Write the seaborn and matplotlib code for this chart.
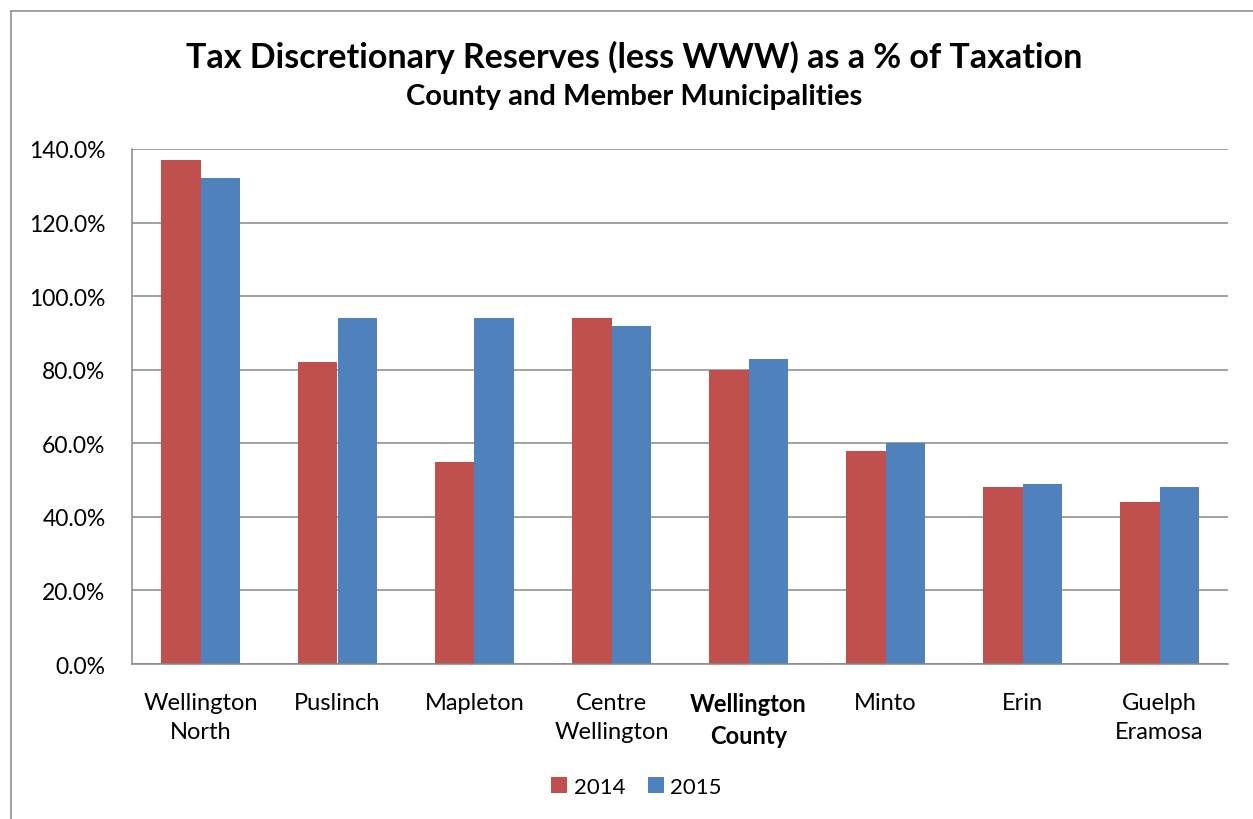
import matplotlib
matplotlib.use("Agg")
import matplotlib.pyplot as plt
from matplotlib.lines import Line2D
from matplotlib.patches import Patch
from matplotlib.ticker import FuncFormatter, FixedLocator
import seaborn as sns
import pandas as pd
import numpy as np

municipalities = ["Wellington\nNorth", "Puslinch", "Mapleton", "Centre\nWellington",
                  "Wellington\nCounty", "Minto", "Erin", "Guelph\nEramosa"]
values_2014 = [137.0, 82.0, 55.0, 94.0, 80.0, 58.0, 48.0, 44.0]
values_2015 = [132.0, 94.0, 94.0, 92.0, 83.0, 60.0, 49.0, 48.0]
years = ["2014", "2015"]
colors = ["#C0504D", "#4F81BD"]

df = pd.DataFrame({
    "Municipality": municipalities * 2,
    "Year": [years[0]] * len(municipalities) + [years[1]] * len(municipalities),
    "Value": values_2014 + values_2015,
})

sns.set_theme(style="white")
plt.rcParams["font.family"] = ["Lato", "DejaVu Sans"]
plt.rcParams["text.color"] = "black"

fig = plt.figure(figsize=(12.53, 8.20), dpi=100)
ax = fig.add_axes([132 / 1253, 1 - 665 / 820, (1228 - 132) / 1253, (665 - 150) / 820])

sns.barplot(data=df, x="Municipality", y="Value", hue="Year", order=municipalities,
            palette=colors, width=0.575, saturation=1, ax=ax, legend=False, edgecolor="none")

grid_c = "#888888"
ax.set_ylim(0, 140)
ax.set_xlim(-0.5, len(municipalities) - 0.5)
ax.set_yticks(np.arange(0, 141, 20))
ax.yaxis.set_major_formatter(FuncFormatter(lambda v, p: f"{v:.1f}%"))
ax.grid(axis="y", color=grid_c, linewidth=1.1)
ax.set_axisbelow(True)
for s in ["top", "right"]:
    ax.spines[s].set_visible(False)
for s in ["left", "bottom"]:
    ax.spines[s].set_color(grid_c)
    ax.spines[s].set_linewidth(1.1)

ax.tick_params(axis="y", which="major", length=6, width=1.1, color=grid_c,
               labelsize=16.5, labelcolor="black", pad=13)
ax.tick_params(axis="x", which="major", length=0, labelsize=17, labelcolor="black", pad=20)
ax.xaxis.set_minor_locator(FixedLocator(np.arange(-0.5, len(municipalities), 1.0)))
ax.tick_params(axis="x", which="minor", length=7, width=1.1, color=grid_c)
ax.set_xlabel("")
ax.set_ylabel("")
for lbl in ax.get_xticklabels():
    lbl.set_linespacing(1.5)
    if lbl.get_text() == "Wellington\nCounty":
        lbl.set_fontweight("bold")

fig.text(0.506, 1 - 57 / 820, "Tax Discretionary Reserves (less WWW) as a % of Taxation",
         ha="center", va="center", fontsize=24.5, fontweight="bold")
fig.text(0.506, 1 - 97 / 820, "County and Member Municipalities",
         ha="center", va="center", fontsize=21, fontweight="bold")

handles = [Patch(facecolor=c, edgecolor="none") for c in colors]
fig.legend(handles, years, loc="center", bbox_to_anchor=(0.508, 1 - 788 / 820), ncol=2,
           frameon=False, fontsize=16, handlelength=0.72, handleheight=0.72,
           handletextpad=0.3, columnspacing=1.0)

# outer chart frame
fig.add_artist(Line2D([10.5 / 1253, 10.5 / 1253], [0, 1 - 12 / 820], transform=fig.transFigure,
                      color=grid_c, linewidth=1.1))
fig.add_artist(Line2D([10.5 / 1253, 1], [1 - 12 / 820, 1 - 12 / 820], transform=fig.transFigure,
                      color=grid_c, linewidth=1.1))

fig.savefig("out.png", dpi=100, facecolor="white")
